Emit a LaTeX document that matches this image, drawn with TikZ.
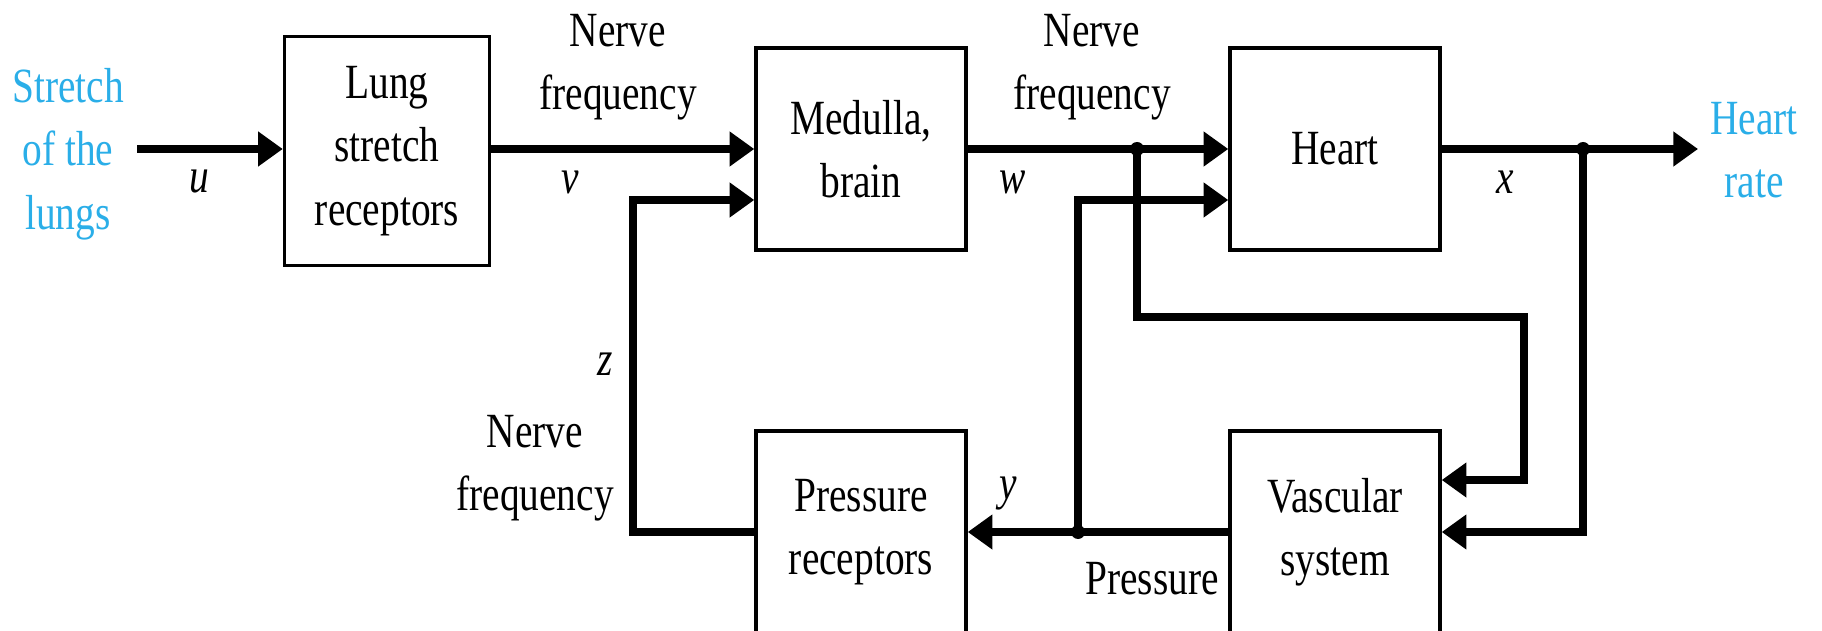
\documentclass[tikz,border=0pt]{standalone}
\usepackage{fontspec}
\setmainfont[FakeStretch=0.8]{Liberation Serif}
\usetikzlibrary{arrows.meta}
\definecolor{lungblue}{HTML}{2AAEE8}
\tikzset{
  blk/.style={draw,line width=2pt,align=center,minimum width=4.2cm,minimum height=4.04cm,inner sep=0pt},
  sig/.style={line width=5pt,-{Triangle[length=14pt,width=19pt]}},
  lbl/.style={align=center,inner sep=0pt},
  var/.style={inner sep=0pt,font=\fontsize{28}{36}\selectfont\itshape},
  jdot/.style={circle,fill,inner sep=0pt,minimum size=0.28cm},
}

\begin{document}
\begin{tikzpicture}[x=0.02cm,y=-0.02cm,font=\fontsize{28}{36}\selectfont]
\useasboundingbox (0,0) rectangle (1822,631);

% blocks
\node[blk,minimum width=4.1cm,minimum height=4.58cm] (lung) at (387,151) {Lung\\stretch\\receptors};
\node[blk] (medulla) at (861,149) {Medulla,\\brain};
\node[blk] (heart) at (1335,149) {Heart};
\node[blk] (press) at (861,532) {Pressure\\receptors};
\node[blk] (vasc) at (1335,532) {Vascular\\system};

% outer texts
\node[lbl,text=lungblue] (stretch) at (68,154) {Stretch\\of the\\lungs};
\node[lbl,text=lungblue] (rate) at (1754,150) {Heart\\rate};
\node[lbl] (nfv) at (618,67) {Nerve\\frequency};
\node[lbl] (nfw) at (1092,67) {Nerve\\frequency};
\node[lbl] (nfz) at (535,468) {Nerve\\frequency};
\node[lbl] (pr) at (1152,579) {Pressure};

% signal names
\node[var] (u) at (199,182) {u};
\node[var] (v) at (570,182) {v};
\node[var] (w) at (1013,182) {w};
\node[var] (x) at (1505,182) {x};
\node[var] (y) at (1008,494) {y};
\node[var] (z) at (605,364) {z};

\coordinate (uin) at (137,149);
\coordinate (xout) at (1698,149);
\coordinate (wj) at (1137,149);
\coordinate (xj) at (1583,149);
\coordinate (pj) at (1078,532);
\coordinate (zc) at (633,532);
\coordinate (wc) at (1524,317);

% forward path
\draw[sig] (uin) -- (lung.west |- uin);
\draw[sig] (lung.east |- uin) -- (medulla.west);
\draw[sig] (medulla.east) -- (heart.west);
\draw[sig] (heart.east) -- (xout);

% feedback paths
\draw[sig] (wj) |- (wc) |- ([yshift=1.04cm]vasc.east);
\draw[sig] (xj) |- (vasc.east);
\draw[sig] (vasc.west) -- (press.east);
\draw[sig] (pj) |- ([yshift=-1.02cm]heart.west);
\draw[sig] (press.west) -- (zc) |- ([yshift=-1.02cm]medulla.west);

\foreach \j in {wj,xj,pj}
  \node[jdot] at (\j) {};
\end{tikzpicture}
\end{document}
